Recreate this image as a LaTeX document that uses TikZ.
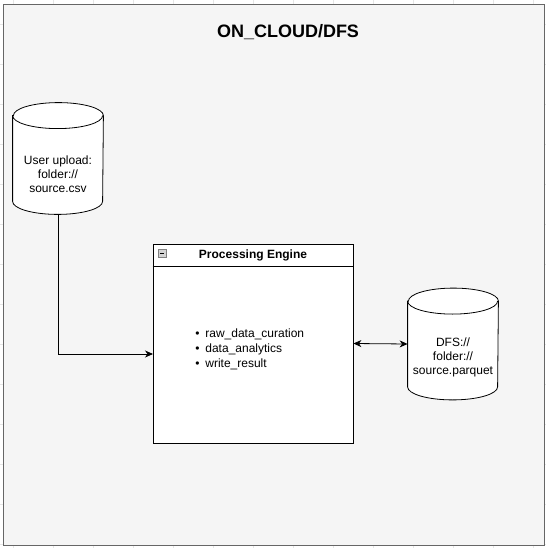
\documentclass[tikz,border=0pt]{standalone}
\usepackage{fontspec}
\setmainfont{Liberation Sans}
\usetikzlibrary{arrows.meta,positioning}
\definecolor{panelgray}{HTML}{F5F5F5}
\definecolor{panelline}{HTML}{666666}
\definecolor{gridgray}{HTML}{E6E6E6}
\definecolor{foldgray}{HTML}{D4D4D4}
\begin{document}
\begin{tikzpicture}[x=1pt, y=-1pt, line width=0.8pt,
  store/.style={minimum width=90pt, minimum height=111pt, inner sep=0pt},
  txt/.style={font=\fontsize{12}{14}\selectfont, align=center, inner sep=0pt},
  link/.style={-{Stealth[length=8pt,width=7pt,inset=2.5pt]}, draw=black},
  twoway/.style={{Stealth[length=8pt,width=7pt,inset=2.5pt]}-{Stealth[length=8pt,width=7pt,inset=2.5pt]}, draw=black}]
\useasboundingbox (0,0) rectangle (546,548);
\fill[white] (0,0) rectangle (546,548);
\foreach \gx in {13,53,...,533} \draw[gridgray, thin] (\gx,0) -- (\gx,548);
\foreach \gy in {24,64,...,544} \draw[gridgray, thin] (0,\gy) -- (546,\gy);
% container
\node[draw=panelline, fill=panelgray, minimum width=541pt, minimum height=541pt, inner sep=0pt] (cloud) at (273.5,274.5) {};
\node[font=\fontsize{18}{21}\selectfont\bfseries] (title) at (288,32) {ON\_CLOUD/DFS};
% engine
\node[draw=black, fill=white, minimum width=200pt, minimum height=199pt, inner sep=0pt] (engine) at (253,343.5) {};
\draw ([yshift=-23pt]engine.north west) -- ([yshift=-23pt]engine.north east);
\node[font=\fontsize{12}{15}\selectfont\bfseries] (enghead) at (253,255.5) {Processing Engine};
\node[draw=gray, fill=foldgray, thin, minimum size=8pt, inner sep=0pt] (fold) at (162,253) {};
\draw[line width=1pt] ([xshift=2pt]fold.west) -- ([xshift=-2pt]fold.east);
\node[txt, font=\fontsize{12}{15}\selectfont, align=left, anchor=west] (tasks) at (195,349) {\makebox[10pt][l]{\textbullet}raw\_data\_curation\\\makebox[10pt][l]{\textbullet}data\_analytics\\\makebox[10pt][l]{\textbullet}write\_result};
% stores
\node[store] (upload) at (58,158.5) {};
\node[store] (dfs) at (453,344) {};
\foreach \st in {upload,dfs}{
  \draw[fill=white] ([yshift=-13pt]\st.north west) -- ([yshift=13pt]\st.south west)
    arc[start angle=180, end angle=360, x radius=45pt, y radius=13pt]
    -- ([yshift=-13pt]\st.north east)
    arc[start angle=0, end angle=180, x radius=45pt, y radius=13pt] -- cycle;
  \draw ([yshift=-13pt]\st.north west) arc[start angle=180, end angle=360, x radius=45pt, y radius=13pt];
}
\node[txt] (uploadtxt) at (58,174) {User upload:\\folder://\\source.csv};
\node[txt] (dfstxt) at (453,357) {DFS://\\folder://\\source.parquet};
% links
\coordinate (entry) at (153,354);
\draw[link] (upload.south) |- (entry);
\draw[twoway] (engine.east) -- (dfs.west);
\end{tikzpicture}
\end{document}
